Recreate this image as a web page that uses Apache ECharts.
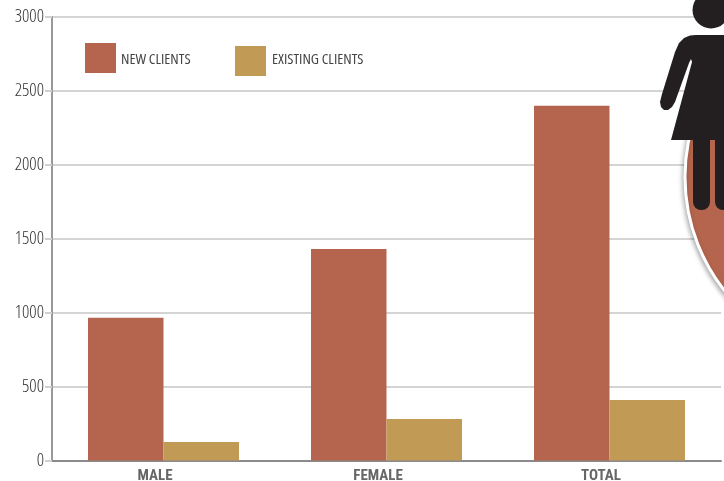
<!DOCTYPE html>
<html><head><meta charset="utf-8">
<script src="https://cdn.jsdelivr.net/npm/echarts@6/dist/echarts.min.js"></script>
<style>html,body{margin:0;padding:0;background:#fff}#c{width:724px;height:481px}</style>
</head><body><div id="c"></div>
<script>
const categories = ['MALE','FEMALE','TOTAL'];
const newClients = [965,1430,2400];
const existingClients = [125,280,410];
const yTicks = {min:0,max:3000,interval:500};
const axisFont = '"Roboto Condensed","Liberation Sans",sans-serif';
const narrowFont = '"Open Sans","Liberation Sans",sans-serif';
const legendRich = pad => ({a:{fontFamily:narrowFont,fontStyle:'condensed',fontSize:15,color:'#444',padding:pad}});
const chart = echarts.init(document.getElementById('c'),null,{renderer:'canvas'});
chart.setOption({
  animation:false,
  backgroundColor:'#fff',
  grid:{left:52,top:17,width:669,height:443.5,outerBoundsMode:'none'},
  legend:[
    {data:['NEW CLIENTS'],left:85,top:43,itemWidth:31,itemHeight:30,icon:'rect',padding:0,
     formatter:'{a|{name}}',textStyle:{rich:legendRich([3,0,0,0])}},
    {data:['EXISTING CLIENTS'],left:235,top:46,itemWidth:31,itemHeight:30,icon:'rect',padding:0,
     formatter:'{a|{name}}',textStyle:{rich:legendRich([0,0,3,1])}}
  ],
  xAxis:{type:'category',data:categories,
    axisLine:{lineStyle:{color:'#8a8a8a',width:2}},axisTick:{show:false},
    axisLabel:{fontFamily:axisFont,fontSize:15,fontWeight:'bold',color:'#666',margin:8,padding:[0,17,0,0]}},
  yAxis:{type:'value',min:yTicks.min,max:yTicks.max,interval:yTicks.interval,
    axisLine:{show:true,lineStyle:{color:'#999',width:2}},
    axisTick:{show:true,length:7,lineStyle:{color:'#d0d0d0',width:2}},
    splitLine:{lineStyle:{color:'#d4d4d4',width:2}},
    axisLabel:{fontFamily:narrowFont,fontStyle:'condensed',fontSize:18,fontWeight:300,color:'#333',margin:8,padding:[1,0,0,0],formatter:v=>String(v)}},
  series:[
    {name:'NEW CLIENTS',type:'bar',data:newClients,barWidth:75.5,barGap:'0%',itemStyle:{color:'#b5654d'},z:2},
    {name:'EXISTING CLIENTS',type:'bar',data:existingClients,barWidth:75.5,itemStyle:{color:'#c19a56'},z:2}
  ],
  graphic:[
    {type:'circle',z:10,shape:{cx:868,cy:177,r:183},
     style:{fill:'#b5654d',stroke:'#fff',lineWidth:3,shadowBlur:5,shadowColor:'rgba(0,0,0,0.3)',shadowOffsetX:-1,shadowOffsetY:2}},
    {type:'circle',z:11,shape:{cx:711,cy:10,r:18.5},style:{fill:'#231f20'}},
    {type:'polygon',z:11,shape:{points:[[696,35],[724,35],[724,140],[671,140],[692,62],[691,59],[689,63],[675,102],[672,107],[668,110],[664,110],[661,107],[660,102],[662,94],[675,52],[679,43],[684,38],[690,35.5]]},style:{fill:'#231f20'}},
    {type:'rect',z:11,shape:{x:693,y:135,width:17,height:75,r:[0,0,8,8]},style:{fill:'#231f20'}},
    {type:'rect',z:11,shape:{x:715,y:135,width:17,height:75,r:[0,0,8,8]},style:{fill:'#231f20'}}
  ]
});
</script></body></html>
